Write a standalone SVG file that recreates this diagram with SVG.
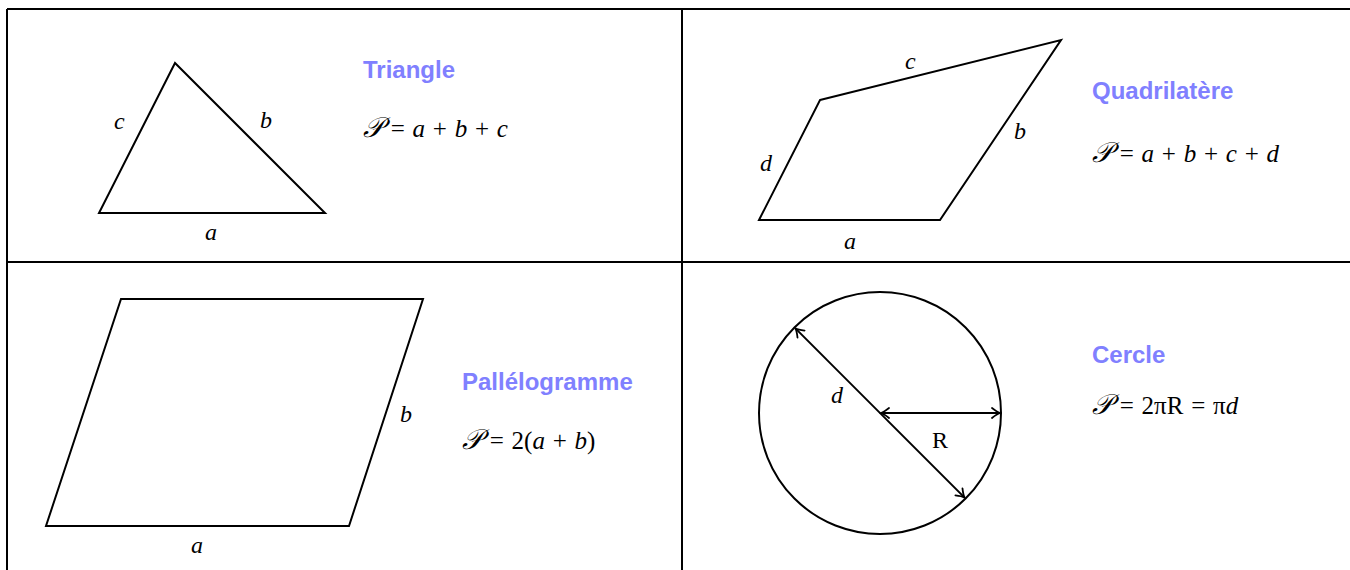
<svg xmlns="http://www.w3.org/2000/svg" width="1350" height="570" viewBox="0 0 1350 570">
<style>
.grid{stroke:#000;stroke-width:2;fill:none}
.shape{stroke:#000;stroke-width:2;fill:none;stroke-linejoin:miter}
.lab{font-family:"Liberation Serif","DejaVu Serif",serif;font-style:italic;font-size:24px;fill:#000}
.up{font-family:"Liberation Serif","DejaVu Serif",serif;font-size:24px;fill:#000}
.title{font-family:"Liberation Sans",Arial,sans-serif;font-weight:bold;font-size:24px;fill:#8080ff}
.f{font-family:"Liberation Serif","DejaVu Serif",serif;font-size:25px;fill:#000;word-spacing:1.5px}
.i{font-style:italic}
.s{font-family:"DejaVu Serif","Noto Sans",serif;font-style:italic;font-size:28px}
.arr{stroke:#000;stroke-width:2;fill:none}
</style>
<defs>
<marker id="tip" viewBox="-10 -6 12 12" markerWidth="12" markerHeight="12" refX="0" refY="0" orient="auto-start-reverse" markerUnits="userSpaceOnUse">
<path d="M -8 -5 Q -3 -1 0 0 Q -3 1 -8 5" stroke="#000" stroke-width="1.8" fill="none" stroke-linecap="round"/>
</marker>
</defs>
<g id="table">
<line class="grid" x1="7" y1="9" x2="1350" y2="9"/>
<line class="grid" x1="7" y1="9" x2="7" y2="570"/>
<line class="grid" x1="682" y1="9" x2="682" y2="570"/>
<line class="grid" x1="7" y1="262" x2="1350" y2="262"/>
</g>
<g id="triangle">
<polygon class="shape" points="175,63 99,213 325,213"/>
<text class="lab" x="114" y="129">c</text>
<text class="lab" x="260" y="128">b</text>
<text class="lab" x="205" y="240">a</text>
<text class="title" x="363" y="78">Triangle</text>
<text class="f" x="363" y="137"><tspan class="s">𝒫</tspan> = <tspan class="i">a</tspan> + <tspan class="i">b</tspan> + <tspan class="i">c</tspan></text>
</g>
<g id="quadrilatere">
<polygon class="shape" points="820,100 1061,40 940,220 759,220"/>
<text class="lab" x="905" y="69">c</text>
<text class="lab" x="1014" y="139">b</text>
<text class="lab" x="760" y="171">d</text>
<text class="lab" x="844" y="249">a</text>
<text class="title" x="1092" y="99">Quadrilatère</text>
<text class="f" x="1092" y="162"><tspan class="s">𝒫</tspan> = <tspan class="i">a</tspan> + <tspan class="i">b</tspan> + <tspan class="i">c</tspan> + <tspan class="i">d</tspan></text>
</g>
<g id="parallelogramme">
<polygon class="shape" points="121,299 423,299 349,526 46,526"/>
<text class="lab" x="400" y="422">b</text>
<text class="lab" x="191" y="553">a</text>
<text class="title" x="462" y="390">Pallélogramme</text>
<text class="f" x="462" y="449"><tspan class="s">𝒫</tspan> = 2(<tspan class="i">a</tspan> + <tspan class="i">b</tspan>)</text>
</g>
<g id="cercle">
<circle class="shape" cx="880" cy="413" r="121"/>
<text class="lab" x="831" y="403">d</text>
<text class="up" x="932" y="448">R</text>
<text class="title" x="1092" y="363">Cercle</text>
<text class="f" x="1092" y="414"><tspan class="s">𝒫</tspan> = 2πR = π<tspan class="i">d</tspan></text>
</g>
<g id="connectors">
<line class="arr" x1="795.4" y1="328.4" x2="964.6" y2="497.6" marker-start="url(#tip)" marker-end="url(#tip)"/>
<line class="arr" x1="881" y1="413" x2="1000" y2="413" marker-start="url(#tip)" marker-end="url(#tip)"/>
</g>
</svg>
